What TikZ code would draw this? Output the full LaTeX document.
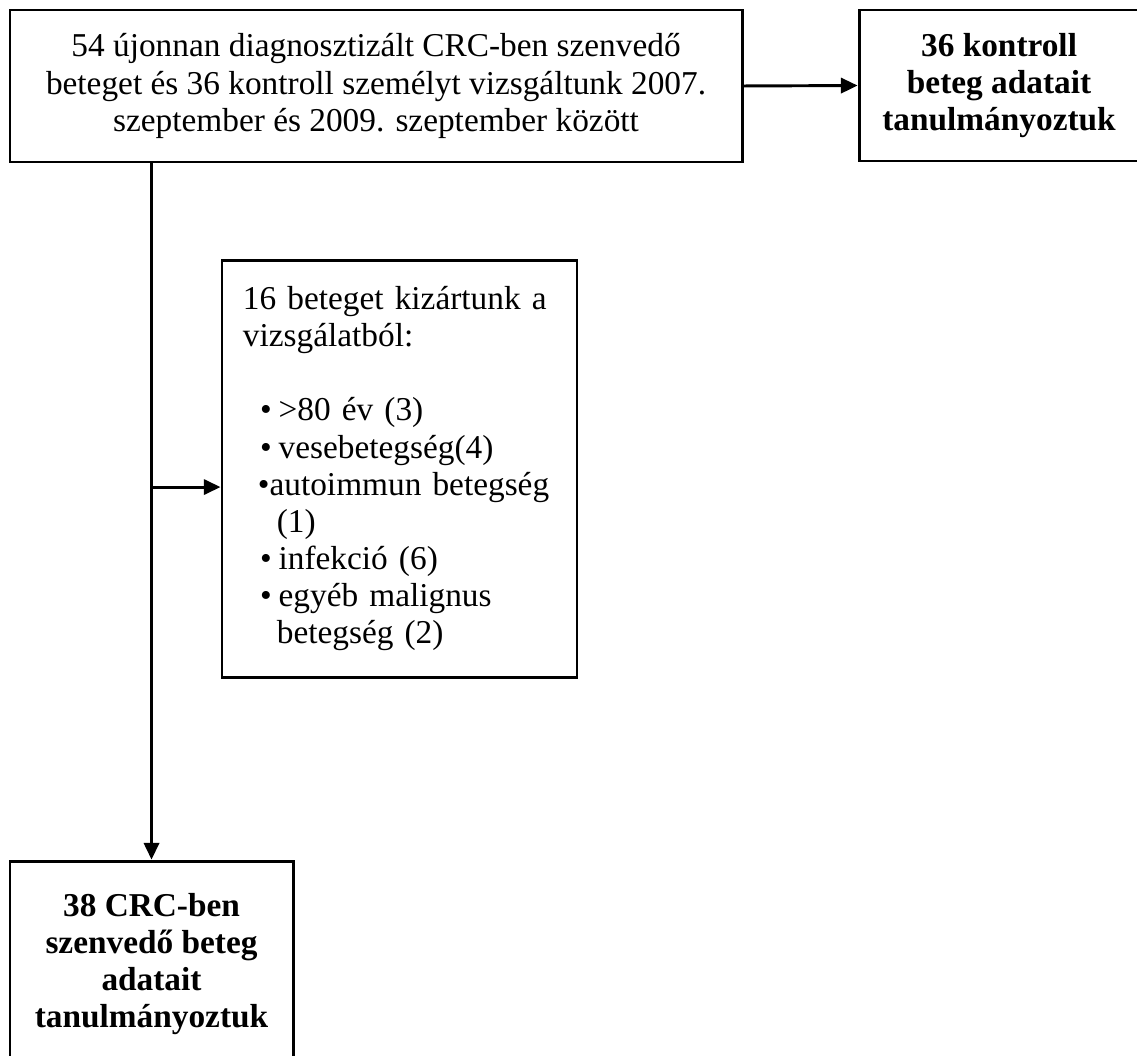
\documentclass[tikz,border=0pt]{standalone}
\usepackage{fontspec}
\setmainfont{Liberation Serif}
\usetikzlibrary{arrows.meta}

\begin{document}
\begin{tikzpicture}[>={Triangle[length=2.2mm,width=2mm]},line width=1.1pt,
   font=\fontsize{12.5}{13.9}\selectfont,
   bx/.style={draw,align=center,inner sep=0pt},
   lst/.style={draw,align=left,inner sep=0pt,text width=4.2cm}]
  \useasboundingbox (0,0) rectangle (14.985,-13.905);
  % boxes
  \node[bx,minimum width=9.648cm,minimum height=2.003cm] (all) at (4.956,-1.133)
     {54 újonnan diagnosztizált CRC-ben szenvedő\\beteget és 36 kontroll személyt vizsgáltunk 2007.\\szeptember és 2009. szeptember között};
  \node[bx,minimum width=3.69cm,minimum height=1.99cm,font=\fontsize{12.5}{13.9}\bfseries] (ctrl) at (13.167,-1.127)
     {36 kontroll\\beteg adatait\\tanulmányoztuk};
  \node[draw,minimum width=4.679cm,minimum height=5.496cm] (excl) at (5.265,-6.175) {};
  \node[lst,draw=none,anchor=west] (excltxt) at ([xshift=0.277cm]excl.west)
     {16 beteget kizártunk a\\vizsgálatból:\\[13.9pt]
      \hspace*{6.4pt}•\kern2.6pt>80 év (3)\\
      \hspace*{6.4pt}•\kern2.6pt vesebetegség(4)\\
      \hspace*{5.6pt}•autoimmun betegség\\
      \hspace*{12.7pt}(1)\\
      \hspace*{6.4pt}•\kern2.6pt infekció (6)\\
      \hspace*{6.4pt}•\kern2.6pt egyéb malignus\\
      \hspace*{12.7pt}betegség (2)};
  \node[bx,minimum width=3.73cm,minimum height=2.715cm,font=\fontsize{12.5}{13.9}\bfseries] (crc) at (1.997,-12.706)
     {38 CRC-ben\\szenvedő beteg\\adatait\\tanulmányoztuk};
  % connectors
  \draw[->] (all.east) -- (ctrl.west);
  \draw[->] (crc.north |- all.south) -- (crc.north);
  \coordinate (br) at (2.0,-6.419);
  \draw[->] (br) -- (br -| excl.west);
\end{tikzpicture}
\end{document}
